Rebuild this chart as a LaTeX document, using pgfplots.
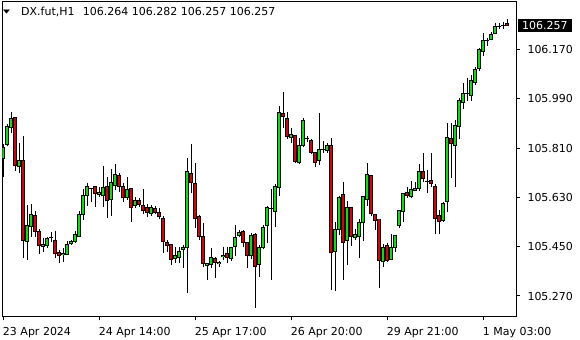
\documentclass[border=0pt]{standalone}
\usepackage{fontspec}
\setmainfont{DejaVu Sans}
\usepackage{pgfplots}
\usepackage{pgfplotstable}
\pgfplotsset{compat=1.18}
\definecolor{bull}{RGB}{0,230,0}
\definecolor{bear}{RGB}{220,0,0}

\pgfplotstableread{
i o h l c
0 105.773 105.824 105.705 105.811
1 105.824 105.898 105.819 105.890
2 105.886 105.943 105.864 105.919
4 105.742 105.827 105.718 105.766
6 105.468 105.602 105.401 105.529
7 105.523 105.605 105.486 105.566
10 105.450 105.481 105.432 105.459
11 105.454 105.486 105.444 105.481
12 105.483 105.502 105.466 105.483
15 105.422 105.444 105.393 105.426
16 105.423 105.471 105.420 105.459
17 105.462 105.474 105.456 105.468
18 105.468 105.507 105.465 105.495
19 105.486 105.580 105.486 105.566
20 105.566 105.659 105.547 105.635
21 105.636 105.684 105.600 105.671
22 105.663 105.663 105.614 105.663
24 105.642 105.669 105.632 105.648
25 105.636 105.744 105.595 105.665
27 105.623 105.732 105.562 105.684
28 105.675 105.751 105.657 105.712
31 105.629 105.705 105.620 105.659
33 105.602 105.630 105.592 105.617
37 105.572 105.602 105.563 105.594
43 105.408 105.450 105.392 105.416
44 105.411 105.450 105.389 105.434
45 105.440 105.456 105.373 105.448
46 105.448 105.773 105.280 105.726
51 105.383 105.392 105.328 105.387
52 105.386 105.444 105.371 105.411
54 105.389 105.399 105.377 105.393
55 105.413 105.448 105.401 105.417
57 105.408 105.450 105.399 105.448
58 105.450 105.529 105.417 105.484
59 105.490 105.511 105.484 105.501
62 105.416 105.501 105.404 105.490
64 105.386 105.456 105.340 105.448
65 105.448 105.529 105.442 105.521
66 105.529 105.598 105.462 105.594
67 105.590 105.661 105.328 105.590
68 105.578 105.678 105.523 105.669
69 105.667 105.965 105.635 105.940
72 105.848 105.882 105.827 105.858
74 105.757 105.846 105.752 105.821
75 105.819 105.919 105.815 105.909
76 105.843 105.855 105.831 105.843
79 105.764 105.937 105.748 105.805
80 105.805 105.837 105.793 105.805
81 105.800 105.830 105.791 105.821
83 105.432 105.539 105.288 105.511
84 105.513 105.636 105.493 105.630
86 105.472 105.617 105.383 105.592
88 105.483 105.513 105.474 105.495
89 105.486 105.550 105.410 105.538
90 105.538 105.635 105.472 105.632
91 105.623 105.757 105.600 105.712
95 105.395 105.459 105.375 105.448
97 105.404 105.495 105.401 105.448
98 105.448 105.493 105.432 105.489
99 105.527 105.583 105.517 105.583
100 105.578 105.645 105.539 105.645
102 105.632 105.690 105.627 105.659
103 105.654 105.687 105.653 105.661
104 105.663 105.752 105.653 105.726
106 105.687 105.729 105.647 105.687
110 105.544 105.614 105.541 105.608
111 105.615 105.901 105.575 105.849
113 105.819 105.912 105.669 105.892
114 105.889 105.994 105.842 105.982
115 105.977 106.048 105.952 106.010
116 106.010 106.064 105.982 106.010
117 106.001 106.077 105.982 106.055
118 106.050 106.107 106.040 106.098
119 106.101 106.174 106.091 106.168
120 106.162 106.229 106.147 106.201
121 106.204 106.213 106.184 106.204
122 106.207 106.232 106.204 106.225
123 106.229 106.265 106.225 106.255
124 106.255 106.265 106.244 106.255
125 106.258 106.269 106.244 106.258
}\bulltable

\pgfplotstableread{
i o h l c
3 105.922 105.922 105.727 105.746
5 105.766 105.854 105.408 105.472
8 105.562 105.580 105.486 105.507
9 105.507 105.515 105.423 105.454
13 105.474 105.507 105.410 105.426
14 105.429 105.438 105.389 105.417
23 105.671 105.671 105.594 105.645
26 105.668 105.705 105.554 105.617
29 105.708 105.720 105.649 105.669
30 105.671 105.684 105.614 105.629
32 105.663 105.663 105.541 105.592
34 105.620 105.627 105.596 105.605
35 105.602 105.659 105.569 105.581
36 105.594 105.606 105.559 105.574
38 105.590 105.600 105.569 105.574
39 105.575 105.592 105.550 105.559
40 105.554 105.562 105.426 105.468
41 105.466 105.474 105.429 105.454
42 105.459 105.459 105.383 105.404
47 105.718 105.825 105.647 105.684
48 105.681 105.757 105.517 105.554
49 105.559 105.566 105.474 105.486
50 105.486 105.535 105.377 105.389
53 105.408 105.413 105.335 105.393
56 105.426 105.448 105.389 105.410
60 105.507 105.511 105.448 105.466
61 105.465 105.465 105.371 105.416
63 105.495 105.499 105.227 105.377
70 105.937 106.013 105.884 105.924
71 105.919 105.940 105.843 105.851
73 105.854 105.854 105.757 105.760
77 105.837 105.843 105.788 105.793
78 105.793 105.797 105.742 105.757
82 105.821 105.846 105.292 105.428
85 105.639 105.687 105.328 105.465
87 105.592 105.592 105.453 105.486
92 105.708 105.708 105.562 105.572
93 105.569 105.569 105.511 105.547
94 105.551 105.551 105.298 105.398
96 105.453 105.465 105.393 105.399
101 105.648 105.669 105.629 105.636
105 105.726 105.793 105.685 105.697
107 105.693 105.791 105.669 105.681
108 105.671 105.678 105.495 105.554
109 105.562 105.584 105.495 105.541
112 105.846 105.902 105.701 105.827
126 106.264 106.282 106.257 106.257
}\beartable

\begin{document}
\begin{tikzpicture}
\path[use as bounding box, fill=white] (-2.3bp,-24bp) rectangle (577.7bp,316bp);
\begin{axis}[
  scale only axis, width=513.7bp, height=314.3bp,
  xmin=-0.25, xmax=128.2, ymin=105.197, ymax=106.344,
  axis line style={line width=1bp, black},
  xtick={0,24,48,72,96,120},
  xticklabels={23 Apr 2024, 24 Apr 14:00, 25 Apr 17:00, 26 Apr 20:00, 29 Apr 21:00, 1 May 03:00},
  ytick={105.27,105.45,105.63,105.81,105.99,106.17},
  yticklabels={105.270,105.450,105.630,105.810,105.990,106.170},
  xtick pos=bottom, ytick pos=right, yticklabel pos=right,
  tick align=outside, major tick length=4bp,
  tick style={line width=1bp, black},
  tick label style={font=\fontsize{11bp}{13bp}\selectfont, black},
  xticklabel style={anchor=base west, inner sep=0pt, yshift=-15bp, xshift=-0.5bp},
  yticklabel style={anchor=west, inner sep=0pt, xshift=7.3bp},
  clip=true,
]
% wicks
\addplot[draw=none, mark=none, forget plot,
  error bars/.cd, y dir=plus, y explicit, error mark=none,
  error bar style={draw=black, line width=1bp}]
  table[x=i, y=l, y error plus expr=\thisrow{h}-\thisrow{l}] {\bulltable};
\addplot[draw=none, mark=none, forget plot,
  error bars/.cd, y dir=plus, y explicit, error mark=none,
  error bar style={draw=black, line width=1bp}]
  table[x=i, y=l, y error plus expr=\thisrow{h}-\thisrow{l}] {\beartable};
% body outlines
\addplot[draw=none, mark=none, forget plot,
  error bars/.cd, y dir=plus, y explicit, error mark=none,
  error bar style={draw=black, line width=3.6bp}]
  table[x=i, y expr=\thisrow{o}-0.0018, y error plus expr=\thisrow{c}-\thisrow{o}+0.0036] {\bulltable};
\addplot[draw=none, mark=none, forget plot,
  error bars/.cd, y dir=plus, y explicit, error mark=none,
  error bar style={draw=black, line width=3.6bp}]
  table[x=i, y expr=\thisrow{c}-0.0018, y error plus expr=\thisrow{o}-\thisrow{c}+0.0036] {\beartable};
% body fills
\addplot[draw=none, mark=none, forget plot,
  error bars/.cd, y dir=plus, y explicit, error mark=none,
  error bar style={draw=bull, line width=1.7bp}]
  table[x=i, y expr=\thisrow{o}+0.0018, y error plus expr={max(\thisrow{c}-\thisrow{o}-0.0036,0)}] {\bulltable};
\addplot[draw=none, mark=none, forget plot,
  error bars/.cd, y dir=plus, y explicit, error mark=none,
  error bar style={draw=bear, line width=1.7bp}]
  table[x=i, y expr=\thisrow{c}+0.0018, y error plus expr={max(\thisrow{o}-\thisrow{c}-0.0036,0)}] {\beartable};
\end{axis}
% header
\node[anchor=center, inner sep=0pt, font=\fontsize{9bp}{10bp}\selectfont] at (4.4bp,304bp) {\scalebox{1}[0.6]{▼}};
\node[anchor=base west, inner sep=0pt, font=\fontsize{11bp}{13bp}\selectfont] at (18.7bp,300.5bp) {DX.fut,H1};
\node[anchor=base west, inner sep=0pt, font=\fontsize{11bp}{13bp}\selectfont] at (80.5bp,300.5bp) {106.264 106.282 106.257 106.257};
% current price label
\node[anchor=west, fill=black, text=white, inner xsep=4.25bp, inner ysep=2.7bp, text height=8bp, text depth=0bp, font=\fontsize{11bp}{13bp}\selectfont] at (515.4bp,290.4bp) {106.257};
\end{tikzpicture}
\end{document}
